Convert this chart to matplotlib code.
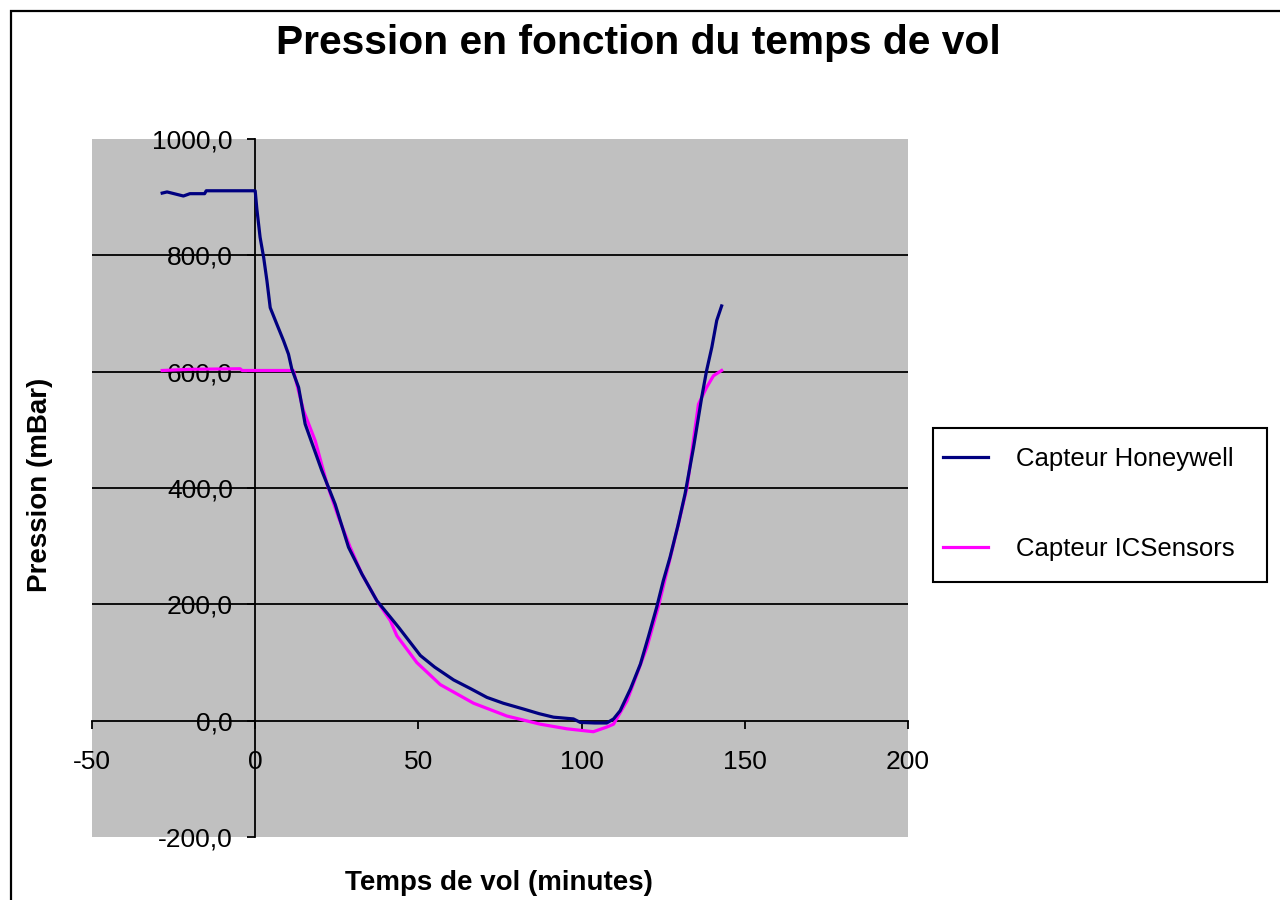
import matplotlib
matplotlib.use("Agg")
import matplotlib.pyplot as plt
from matplotlib.patches import Rectangle
from matplotlib.ticker import FuncFormatter

# Flight time (minutes) and pressure (mBar) for each sensor
t_honeywell = [-28.5, -27.0, -22.0, -20.0, -15.5, -15.0, 0.0, 0.5, 1.5, 2.6, 3.6, 4.6,
               6.6, 8.7, 10.2, 11.2, 13.3, 15.3, 20.4, 24.5, 28.6, 32.7, 37.3, 41.4,
               44.0, 50.6, 55.0, 60.8, 66.0, 71.0, 76.0, 82.2, 87.0, 91.4, 97.5, 99.6,
               104.0, 107.7, 109.8, 111.8, 115.0, 118.0, 120.5, 123.0, 125.0, 127.1,
               129.5, 131.7, 134.3, 136.8, 138.3, 139.9, 141.4, 142.9]
p_honeywell = [907, 909, 902, 906, 906, 911, 911, 880, 831, 796, 756, 710,
               682, 653, 630, 605, 573, 510, 430, 372, 298, 252, 206, 178,
               160, 112, 92, 70, 55, 40, 30, 20, 12, 6, 3, -3,
               -4, -4, 3, 17, 55, 97, 145, 195, 240, 281,
               335, 390, 470, 556, 602, 642, 688, 713]

t_icsensors = [-28.5, -20.0, -4.6, -4.0, 11.7, 14.8, 18.4, 22.0, 25.5, 29.1, 32.7,
               37.3, 41.4, 43.4, 49.5, 56.7, 66.9, 77.1, 87.3, 95.5, 103.6, 107.7,
               109.8, 113.9, 120.0, 123.6, 128.2, 132.3, 134.8, 135.8, 138.3, 140.4,
               142.9]
p_icsensors = [602, 604, 605, 602, 602, 533, 481, 407, 350, 298, 252,
               206, 172, 146, 100, 62, 30, 8, -6, -14, -19, -11,
               -6, 34, 126, 198, 304, 401, 504, 544, 573, 593,
               602]

series_labels = ["Capteur Honeywell", "Capteur ICSensors"]
x_ticks = [-50, 0, 50, 100, 150, 200]
y_ticks = [-200, 0, 200, 400, 600, 800, 1000]

plt.rcParams["font.family"] = ["Liberation Sans", "DejaVu Sans"]
plt.rcParams["axes.unicode_minus"] = False

W, H = 1280, 900
fig = plt.figure(figsize=(W / 100, H / 100), dpi=100)
fig.patch.set_facecolor("white")

# outer chart frame (top and left edges visible)
fig.patches.append(Rectangle((11 / W, -0.1), 1.2, 1 - 11 / H + 0.1,
                             transform=fig.transFigure, fill=False,
                             edgecolor="black", linewidth=1.6))

ax = fig.add_axes([92 / W, 1 - 837 / H, (908 - 92) / W, (837 - 139) / H])
ax.set_facecolor("#C0C0C0")
ax.set_xlim(-50, 200)
ax.set_ylim(-200, 1000)

for y in y_ticks:
    if -200 < y < 1000 and y != 0:
        ax.axhline(y, color="black", linewidth=1.3, zorder=1)

ax.plot(t_honeywell, p_honeywell, color="#000080", linewidth=2.3,
        label=series_labels[0], zorder=3)
ax.plot(t_icsensors, p_icsensors, color="#FF00FF", linewidth=2.3,
        label=series_labels[1], zorder=2)

for side in ("top", "right"):
    ax.spines[side].set_visible(False)
ax.spines["left"].set_position(("data", 0))
ax.spines["bottom"].set_position(("data", 0))
for side in ("left", "bottom"):
    ax.spines[side].set_color("black")
    ax.spines[side].set_linewidth(1.3)
    ax.spines[side].set_zorder(1)

ax.set_xticks(x_ticks)
ax.set_yticks(y_ticks)
ax.xaxis.set_major_formatter(FuncFormatter(lambda v, p: f"{v:g}"))
ax.yaxis.set_major_formatter(FuncFormatter(lambda v, p: f"{v:.1f}".replace(".", ",")))
ax.tick_params(axis="x", direction="out", length=6, width=1.3, pad=15,
               labelsize=19, colors="black")
ax.tick_params(axis="y", direction="out", length=6, width=1.3, pad=10,
               labelsize=19, colors="black")
for lab in ax.get_xticklabels() + ax.get_yticklabels():
    lab.set_zorder(5)

fig.text(638 / W, 1 - 43 / H, "Pression en fonction du temps de vol",
         ha="center", va="center", fontsize=29.3, fontweight="bold")
fig.text(499 / W, 1 - 883 / H, "Temps de vol (minutes)",
         ha="center", va="center", fontsize=20, fontweight="bold")
fig.text(40 / W, 1 - 485 / H, "Pression (mBar)", rotation=90,
         ha="center", va="center", fontsize=20, fontweight="bold")

# legend box
fig.patches.append(Rectangle((933 / W, 1 - 582 / H), (1267 - 933) / W, (582 - 428) / H,
                             transform=fig.transFigure, facecolor="white",
                             edgecolor="black", linewidth=1.5, zorder=4))
leg = fig.legend(loc="upper left", bbox_to_anchor=(943 / W, 1 - 447 / H),
                 borderaxespad=0, borderpad=0, fontsize=18.5,
                 handlelength=1.75, handletextpad=1.1, labelspacing=2.57,
                 frameon=False)
leg.set_zorder(5)

fig.savefig("out.png", dpi=100)
